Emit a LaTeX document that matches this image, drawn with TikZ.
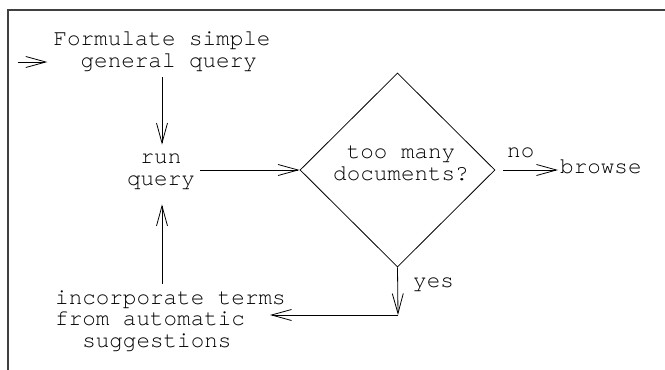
\documentclass[tikz,border=0pt]{standalone}
\usepackage{fontspec}
\setmonofont{TeX Gyre Cursor}
\usetikzlibrary{arrows.meta,shapes.geometric}
\begin{document}
\begin{tikzpicture}[x=1pt,y=-1pt,
  txt/.style={font=\ttfamily\fontsize{22.6}{21.5}\selectfont, inner sep=0pt, align=center},
  flow/.style={draw, line width=0.8pt, -{Straight Barb[length=20pt,width=11pt]}},
  frame/.style={line width=1.2pt, draw=black!75}]
\useasboundingbox (0,0) rectangle (665,370);
% frame edges (top and left)
\draw[frame] (8,370) -- (8,10) -- (665,10);

% text blocks (base anchor sits on the last line)
\node[txt, anchor=base] (form) at (162,67) {Formulate simple\\\phantom{x}general query};
\node[txt, anchor=base] (run) at (161,185) {run\\query};
\node[draw, diamond, minimum width=195pt, minimum height=194pt, inner sep=0pt, line width=0.8pt] (dec) at (397.5,170) {};
\node[txt, anchor=base] (q) at (401,180) {too many\\documents?};
\node[txt, anchor=base west] (browse) at (560,173) {browse};
\node[txt, align=left, anchor=base west] (inc) at (55,347) {incorporate terms\\from automatic\\\phantom{xx}suggestions};
\node[txt, anchor=base west] (no) at (507,157) {no};
\node[txt, anchor=base west] (yes) at (413,287) {yes};

% connector points
\coordinate (start) at (18,62);
\coordinate (corner) at (398,315);
\coordinate (incin) at (270,315);

% connectors
\draw[flow, shorten >=6pt] (start) -- (start -| form.west);
\draw[flow, shorten <=6pt, shorten >=9pt] (form.south) -- (form.south |- run.north);
\draw[flow, shorten <=5pt] (run.east |- dec.west) -- (dec.west);
\draw[flow, shorten <=8pt, shorten >=2pt] (dec.east) -- (dec.east -| browse.west);
\draw[flow] (dec.south) -- (corner);
\draw[flow] (corner) -- (incin);
\draw[flow, shorten <=6pt, shorten >=15pt] (inc.north -| form.south) -- (form.south |- run.south);
\end{tikzpicture}
\end{document}
